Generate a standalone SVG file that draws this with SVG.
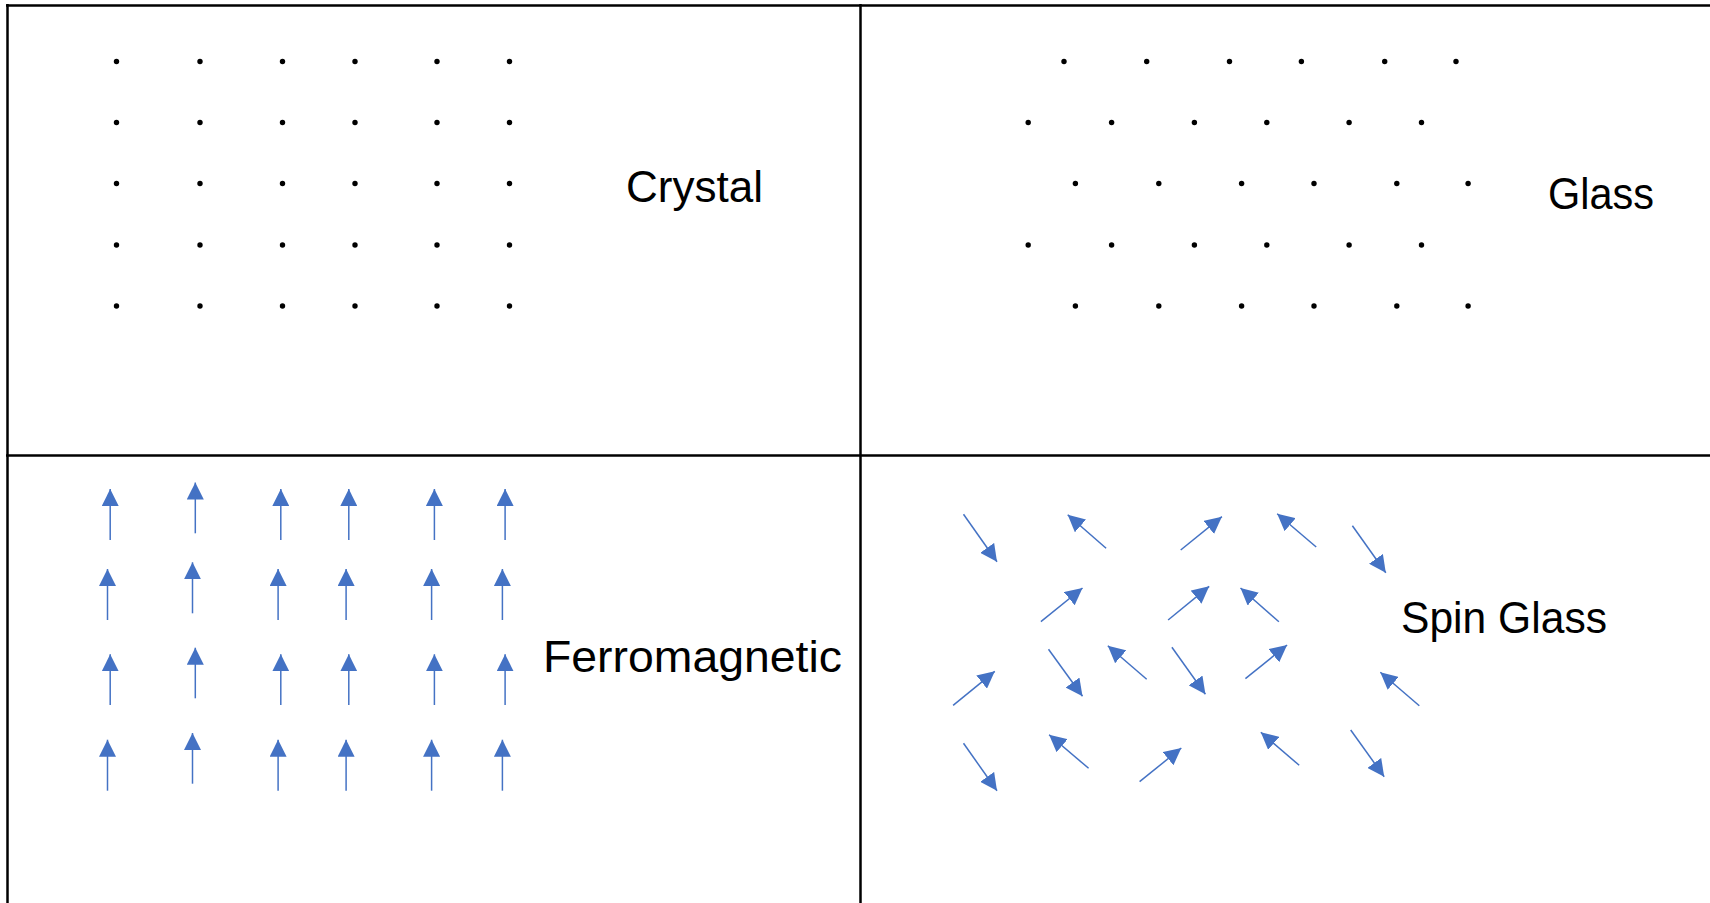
<svg xmlns="http://www.w3.org/2000/svg" width="1710" height="903" viewBox="0 0 1710 903">
<style>
.frame{stroke:#000;stroke-width:2.5;fill:none}
.dot circle{fill:#000;r:2.7px}
.spin{stroke:#4472C4;stroke-width:1.5;fill:none;marker-end:url(#ah)}
.lbl{font-family:"Liberation Sans",Arial,sans-serif;font-size:44px;fill:#000}
</style>
<defs>
<marker id="ah" markerUnits="userSpaceOnUse" viewBox="0 0 16 16" markerWidth="17" markerHeight="17" refX="16" refY="8" orient="auto">
<path d="M0,0 L16,8 L0,16 z" fill="#4472C4"/>
</marker>
</defs>
<rect width="1710" height="903" fill="#fff"/>
<g id="frame" class="frame">
<line x1="6" y1="5.5" x2="1710" y2="5.5"/>
<line x1="7.5" y1="4" x2="7.5" y2="903"/>
<line x1="860.5" y1="4" x2="860.5" y2="903"/>
<line x1="6" y1="455.5" x2="1710" y2="455.5"/>
</g>
<g id="crystal">
<g class="dot">
<circle cx="116.5" cy="61.5" r="2.7"/><circle cx="200" cy="61.5" r="2.7"/><circle cx="282.5" cy="61.5" r="2.7"/><circle cx="355" cy="61.5" r="2.7"/><circle cx="437" cy="61.5" r="2.7"/><circle cx="509.5" cy="61.5" r="2.7"/>
<circle cx="116.5" cy="122.5" r="2.7"/><circle cx="200" cy="122.5" r="2.7"/><circle cx="282.5" cy="122.5" r="2.7"/><circle cx="355" cy="122.5" r="2.7"/><circle cx="437" cy="122.5" r="2.7"/><circle cx="509.5" cy="122.5" r="2.7"/>
<circle cx="116.5" cy="183.5" r="2.7"/><circle cx="200" cy="183.5" r="2.7"/><circle cx="282.5" cy="183.5" r="2.7"/><circle cx="355" cy="183.5" r="2.7"/><circle cx="437" cy="183.5" r="2.7"/><circle cx="509.5" cy="183.5" r="2.7"/>
<circle cx="116.5" cy="245" r="2.7"/><circle cx="200" cy="245" r="2.7"/><circle cx="282.5" cy="245" r="2.7"/><circle cx="355" cy="245" r="2.7"/><circle cx="437" cy="245" r="2.7"/><circle cx="509.5" cy="245" r="2.7"/>
<circle cx="116.5" cy="306" r="2.7"/><circle cx="200" cy="306" r="2.7"/><circle cx="282.5" cy="306" r="2.7"/><circle cx="355" cy="306" r="2.7"/><circle cx="437" cy="306" r="2.7"/><circle cx="509.5" cy="306" r="2.7"/>
</g>
<text class="lbl" x="626" y="202" textLength="137" lengthAdjust="spacingAndGlyphs">Crystal</text>
</g>
<g id="glass">
<g class="dot">
<circle cx="1064" cy="61.5" r="2.7"/><circle cx="1146.7" cy="61.5" r="2.7"/><circle cx="1229.5" cy="61.5" r="2.7"/><circle cx="1301.4" cy="61.5" r="2.7"/><circle cx="1384.7" cy="61.5" r="2.7"/><circle cx="1456" cy="61.5" r="2.7"/>
<circle cx="1028.2" cy="122.5" r="2.7"/><circle cx="1111.6" cy="122.5" r="2.7"/><circle cx="1194.4" cy="122.5" r="2.7"/><circle cx="1266.8" cy="122.5" r="2.7"/><circle cx="1349.1" cy="122.5" r="2.7"/><circle cx="1421.5" cy="122.5" r="2.7"/>
<circle cx="1075.4" cy="183.5" r="2.7"/><circle cx="1158.8" cy="183.5" r="2.7"/><circle cx="1241.6" cy="183.5" r="2.7"/><circle cx="1314" cy="183.5" r="2.7"/><circle cx="1396.8" cy="183.5" r="2.7"/><circle cx="1468.1" cy="183.5" r="2.7"/>
<circle cx="1028.2" cy="245" r="2.7"/><circle cx="1111.6" cy="245" r="2.7"/><circle cx="1194.4" cy="245" r="2.7"/><circle cx="1266.8" cy="245" r="2.7"/><circle cx="1349.1" cy="245" r="2.7"/><circle cx="1421.5" cy="245" r="2.7"/>
<circle cx="1075.4" cy="306" r="2.7"/><circle cx="1158.8" cy="306" r="2.7"/><circle cx="1241.6" cy="306" r="2.7"/><circle cx="1314" cy="306" r="2.7"/><circle cx="1396.8" cy="306" r="2.7"/><circle cx="1468.1" cy="306" r="2.7"/>
</g>
<text class="lbl" x="1548" y="209" textLength="106" lengthAdjust="spacingAndGlyphs">Glass</text>
</g>
<g id="ferromagnetic">
<g class="spin">
<line x1="110.2" y1="540" x2="110.2" y2="489"/><line x1="195.3" y1="533.3" x2="195.3" y2="482.5"/><line x1="280.8" y1="540" x2="280.8" y2="489"/><line x1="348.8" y1="540" x2="348.8" y2="489"/><line x1="434.4" y1="540" x2="434.4" y2="489"/><line x1="505.1" y1="540" x2="505.1" y2="489"/>
<line x1="107.5" y1="620" x2="107.5" y2="569"/><line x1="192.5" y1="613.3" x2="192.5" y2="562.3"/><line x1="278.1" y1="620" x2="278.1" y2="569"/><line x1="346.1" y1="620" x2="346.1" y2="569"/><line x1="431.6" y1="620" x2="431.6" y2="569"/><line x1="502.4" y1="620" x2="502.4" y2="569"/>
<line x1="110.2" y1="705" x2="110.2" y2="654.3"/><line x1="195.3" y1="698.3" x2="195.3" y2="647.7"/><line x1="280.8" y1="705" x2="280.8" y2="654.3"/><line x1="348.8" y1="705" x2="348.8" y2="654.3"/><line x1="434.4" y1="705" x2="434.4" y2="654.3"/><line x1="505.1" y1="705" x2="505.1" y2="654.3"/>
<line x1="107.5" y1="790.7" x2="107.5" y2="739.7"/><line x1="192.5" y1="783.7" x2="192.5" y2="733"/><line x1="278.1" y1="790.7" x2="278.1" y2="739.7"/><line x1="346.1" y1="790.7" x2="346.1" y2="739.7"/><line x1="431.6" y1="790.7" x2="431.6" y2="739.7"/><line x1="502.4" y1="790.7" x2="502.4" y2="739.7"/>
</g>
<text class="lbl" x="543" y="672" textLength="299" lengthAdjust="spacingAndGlyphs">Ferromagnetic</text>
</g>
<g id="spin-glass">
<g class="spin">
<line x1="963.5" y1="514.3" x2="997" y2="561.7"/>
<line x1="1106.1" y1="548.3" x2="1067.7" y2="514.7"/>
<line x1="1180.7" y1="550" x2="1221.9" y2="516.7"/>
<line x1="1316.2" y1="547" x2="1277.2" y2="513.7"/>
<line x1="1352.4" y1="525.7" x2="1385.8" y2="572.7"/>
<line x1="1040.9" y1="621.7" x2="1082.5" y2="588"/>
<line x1="1168.1" y1="620" x2="1209.2" y2="586.3"/>
<line x1="1278.9" y1="621.7" x2="1240.5" y2="588"/>
<line x1="1048.5" y1="649.3" x2="1082.5" y2="696.3"/>
<line x1="1146.7" y1="679.3" x2="1107.8" y2="645.7"/>
<line x1="1171.9" y1="647.3" x2="1205.4" y2="694.3"/>
<line x1="1245.4" y1="678.7" x2="1287.1" y2="645"/>
<line x1="953.1" y1="705.3" x2="994.8" y2="671.3"/>
<line x1="1419.3" y1="705.7" x2="1380.3" y2="672.3"/>
<line x1="963.5" y1="743.3" x2="997" y2="790.7"/>
<line x1="1088.6" y1="768.3" x2="1049.1" y2="734.7"/>
<line x1="1139.6" y1="781.7" x2="1181.3" y2="748"/>
<line x1="1299.2" y1="765.3" x2="1260.8" y2="732.3"/>
<line x1="1350.7" y1="730" x2="1384.2" y2="776.7"/>
</g>
<text class="lbl" x="1401" y="633" textLength="206" lengthAdjust="spacingAndGlyphs">Spin Glass</text>
</g>
</svg>
